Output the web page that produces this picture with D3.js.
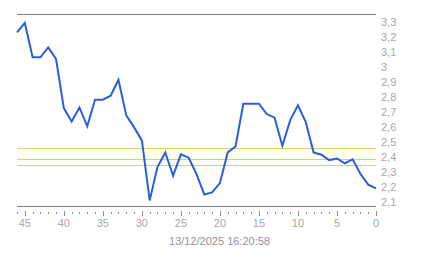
<!DOCTYPE html>
<html>
<head>
<meta charset="utf-8">
<script src="https://cdn.jsdelivr.net/npm/d3@7"></script>
<style>
  html, body { margin: 0; padding: 0; background: #fff; }
  svg { display: block; }
  text { font-family: "Liberation Sans", Arial, sans-serif; }
</style>
</head>
<body>
<div id="chart"></div>
<script>
// minutes ago (x axis runs from 46 down to 0)
const minutesAgo = d3.range(46, -1, -1);
// value at each minute, oldest first
const values = [3.233, 3.296, 3.067, 3.067, 3.133, 3.056, 2.729, 2.64, 2.733, 2.607,
  2.785, 2.785, 2.811, 2.918, 2.68, 2.6, 2.513, 2.113, 2.336, 2.433,
  2.278, 2.42, 2.398, 2.289, 2.153, 2.167, 2.229, 2.433, 2.473, 2.758,
  2.758, 2.758, 2.689, 2.665, 2.478, 2.647, 2.747, 2.636, 2.433, 2.418,
  2.382, 2.393, 2.36, 2.387, 2.291, 2.218, 2.193];
// reference levels
const refLevels = [2.463, 2.389, 2.351];
const refColors = ["#e6cc7c", "#b2dba2", "#b2dba2"];
const yTicks = [2.1, 2.2, 2.3, 2.4, 2.5, 2.6, 2.7, 2.8, 2.9, 3, 3.1, 3.2, 3.3];
const xMajor = [45, 40, 35, 30, 25, 20, 15, 10, 5, 0];
const stamp = "13/12/2025 16:20:58";

const W = 443, H = 258;
const plotLeft = 17, plotRight = 376, plotTop = 14, plotBottom = 206;

const svg = d3.select("#chart").append("svg")
  .attr("width", W).attr("height", H);

const x = d3.scaleLinear().domain([46, 0]).range([plotLeft, plotRight]);
const y = d3.scaleLinear().domain([2.076, 3.356]).range([plotBottom, plotTop]);

const fmt = d => String(d).replace(".", ",");

// faint band between the upper two levels
svg.append("rect")
  .attr("x", plotLeft).attr("width", plotRight - plotLeft)
  .attr("y", Math.round(y(refLevels[0])) + 1)
  .attr("height", Math.round(y(refLevels[1])) - Math.round(y(refLevels[0])) - 1)
  .attr("fill", "#fffff0");

// reference lines
refLevels.forEach((v, i) => {
  svg.append("line")
    .attr("x1", plotLeft).attr("x2", plotRight)
    .attr("y1", Math.round(y(v)) + 0.5).attr("y2", Math.round(y(v)) + 0.5)
    .attr("stroke", refColors[i]).attr("stroke-width", 1);
});

// top and bottom frame lines
[plotTop, plotBottom].forEach(py => {
  svg.append("line")
    .attr("x1", plotLeft).attr("x2", plotRight)
    .attr("y1", py + 0.5).attr("y2", py + 0.5)
    .attr("stroke", "#808080").attr("stroke-width", 1);
});

// y labels on the right
svg.append("g").selectAll("text").data(yTicks).join("text")
  .attr("x", 381)
  .attr("y", d => y(d) + 4)
  .attr("font-size", 11)
  .attr("fill", "#a8a8a8")
  .text(fmt);

// minor x ticks
svg.append("g").selectAll("line").data(minutesAgo.filter(d => d % 5 !== 0)).join("line")
  .attr("x1", d => Math.round(x(d)) + 0.5).attr("x2", d => Math.round(x(d)) + 0.5)
  .attr("y1", 212).attr("y2", 214)
  .attr("stroke", "#909090");

// major x ticks
svg.append("g").selectAll("line").data(xMajor).join("line")
  .attr("x1", d => Math.round(x(d)) + 0.5).attr("x2", d => Math.round(x(d)) + 0.5)
  .attr("y1", 211).attr("y2", 216)
  .attr("stroke", "#909090");

svg.append("g").selectAll("text").data(xMajor).join("text")
  .attr("x", d => x(d))
  .attr("y", 227)
  .attr("text-anchor", "middle")
  .attr("font-size", 11)
  .attr("fill", "#a8a8a8")
  .text(d => d);

svg.append("text")
  .attr("x", 219.5).attr("y", 245)
  .attr("text-anchor", "middle")
  .attr("font-size", 11)
  .attr("fill", "#939393")
  .text(stamp);

// data line
const line = d3.line()
  .x((d, i) => x(minutesAgo[i]))
  .y(d => y(d));

svg.append("path")
  .datum(values)
  .attr("d", line)
  .attr("fill", "none")
  .attr("stroke", "#2b5fd6")
  .attr("stroke-width", 2)
  .attr("stroke-linejoin", "miter");
</script>
</body>
</html>
